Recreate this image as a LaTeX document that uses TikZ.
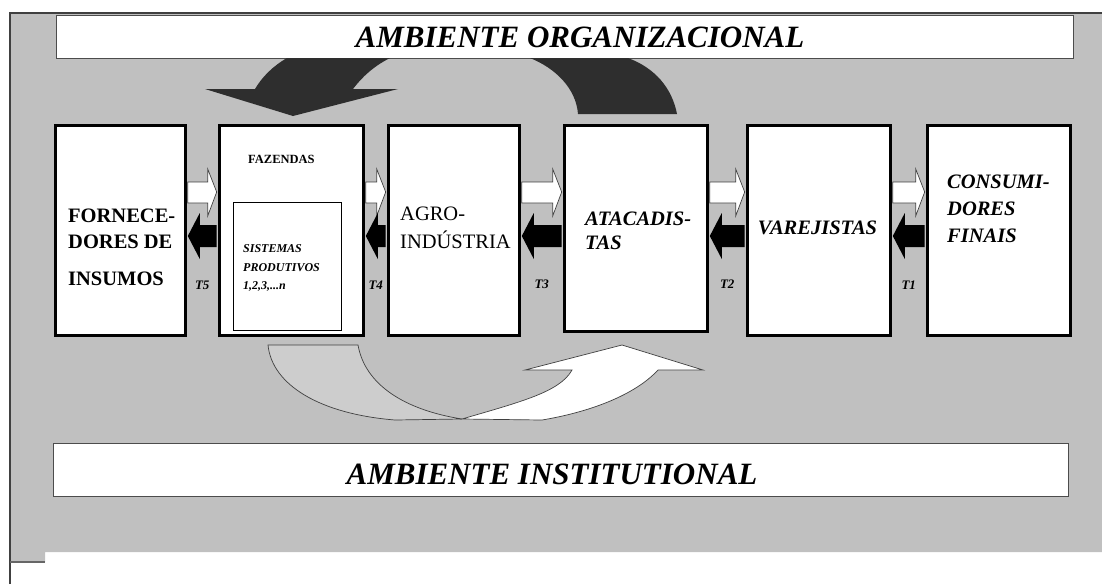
\documentclass[tikz,border=0pt]{standalone}
\usepackage{fontspec}
\setmainfont{Liberation Serif}
\usetikzlibrary{calc}

\definecolor{fundo}{HTML}{C0C0C0}
\definecolor{seta}{HTML}{2E2E2E}
\definecolor{cinzaclaro}{HTML}{CDCDCD}

\tikzset{
  elo/.style={draw=black, line width=2.5pt, fill=white, anchor=north west,
    inner sep=0pt, minimum height=210pt},
  faixa/.style={draw=black!70, line width=1.3pt, fill=white, anchor=north west,
    inner sep=0pt},
  titulo/.style={font=\fontsize{31}{36}\selectfont\bfseries\itshape, anchor=base, inner sep=0pt},
  texto/.style={anchor=north west, inner sep=0pt, align=left},
  trans/.style={font=\fontsize{13}{15}\selectfont\bfseries\itshape, anchor=base, inner sep=0pt},
  contorno/.style={draw=black!75, line width=0.7pt},
}

\begin{document}
\begin{tikzpicture}[x=1pt,y=-1pt]
\useasboundingbox (0,0) rectangle (1102,584);

% fundo cinza
\fill[fundo] (10,13) -- (1102,13) -- (1102,552) -- (45,552) -- (45,562) -- (10,562) -- cycle;
\draw[black!75, line width=1.5pt] (10,584) -- (10,13) -- (1102,13);
\draw[black!60, line width=1.5pt] (10,562) -- (45,562);

% ambientes
\node[faixa, minimum width=1017pt, minimum height=43pt] (org) at (56,15) {};
\node[titulo] (org-txt) at (580,47) {AMBIENTE ORGANIZACIONAL};
\node[faixa, minimum width=1015pt, minimum height=53pt] (inst) at (53,443) {};
\node[titulo] (inst-txt) at (552,484) {AMBIENTE INSTITUTIONAL};

% setas escuras de cima
\fill[seta] (287,58) .. controls (273,66) and (262,77) .. (255,89) -- (205,89) -- (293,116)
  -- (398,89) -- (353,89) .. controls (362,77) and (374,66) .. (390,58) -- cycle;
\fill[seta] (530,58) .. controls (555,68) and (576,88) .. (578,114) -- (677,114)
  .. controls (672,88) and (655,68) .. (628,58) -- cycle;

% elos da cadeia
\node[elo, minimum width=130pt] (b1) at (54,124) {};
\node[elo, minimum width=144pt] (b2) at (218,124) {};
\node[draw=black, line width=1.4pt, fill=white, anchor=north west, inner sep=0pt,
  minimum width=108pt, minimum height=128pt] (sist) at (233,202) {};
\node[elo, minimum width=131pt] (b3) at (387,124) {};
\node[elo, minimum width=143pt, minimum height=206pt] (b4) at (563,124) {};
\node[elo, minimum width=143pt] (b5) at (746,124) {};
\node[elo, minimum width=143pt] (b6) at (926,124) {};

\node[texto, font=\fontsize{20.5}{26}\selectfont\bfseries] (b1-txt) at (68,208.5)
  {FORNECE-\\DORES DE\\[11pt]INSUMOS};
\node[texto, font=\fontsize{12.5}{15}\selectfont\bfseries] (b2-txt) at (248,154.7) {FAZENDAS};
\node[texto, font=\fontsize{12}{19}\selectfont\bfseries\itshape] (sist-txt) at (243,244)
  {SISTEMAS\\PRODUTIVOS\\[-1pt]1,2,3,...n};
\node[texto, font=\fontsize{20.5}{28}\selectfont] (b3-txt) at (400,206.4) {AGRO-\\INDÚSTRIA};
\node[texto, font=\fontsize{20.5}{24}\selectfont\bfseries\itshape] (b4-txt) at (585,211.4)
  {ATACADIS-\\TAS};
\node[font=\fontsize{20.5}{24}\selectfont\bfseries\itshape, anchor=base, inner sep=0pt]
  (b5-txt) at (817.5,234) {VAREJISTAS};
\node[texto, font=\fontsize{20.5}{27}\selectfont\bfseries\itshape] (b6-txt) at (947,174.4)
  {CONSUMI-\\DORES\\FINAIS};

% fluxos entre os elos
\foreach \a/\b/\t in {b1/b2/T5, b2/b3/T4, b3/b4/T3, b4/b5/T2, b5/b6/T1}{
  \path (\a.east) ++(1.3,0) coordinate (p) (\b.west) ++(-1.3,0) coordinate (q);
  \filldraw[fill=white, contorno] (p |- 0,182) -- ($(q |- 0,182)+(-9,0)$) -- ($(q |- 0,169)+(-9,0)$)
    -- (q |- 0,192) -- ($(q |- 0,216)+(-9,0)$) -- ($(q |- 0,203)+(-9,0)$) -- (p |- 0,203) -- cycle;
  \fill[black] (p |- 0,236) -- ($(p |- 0,213)+(12,0)$) -- ($(p |- 0,225)+(12,0)$) -- (q |- 0,225)
    -- (q |- 0,247) -- ($(p |- 0,247)+(12,0)$) -- ($(p |- 0,259)+(12,0)$) -- cycle;
  \node[trans] (t-\t) at ($(p)!0.5!(q)+(0,59)$) {\t};
}

% seta de baixo
\filldraw[fill=cinzaclaro, contorno] (268,345) -- (358,345) .. controls (365,385) and (405,410) .. (462,419)
  -- (395,420) .. controls (320,414) and (272,385) .. (268,345) -- cycle;
\filldraw[fill=white, contorno] (462,419) -- (542,420) .. controls (590,412) and (635,395) .. (658,370)
  -- (703,370) -- (622,345) -- (525,370) -- (572,370) .. controls (560,392) and (520,402) .. (462,419) -- cycle;
\end{tikzpicture}
\end{document}
